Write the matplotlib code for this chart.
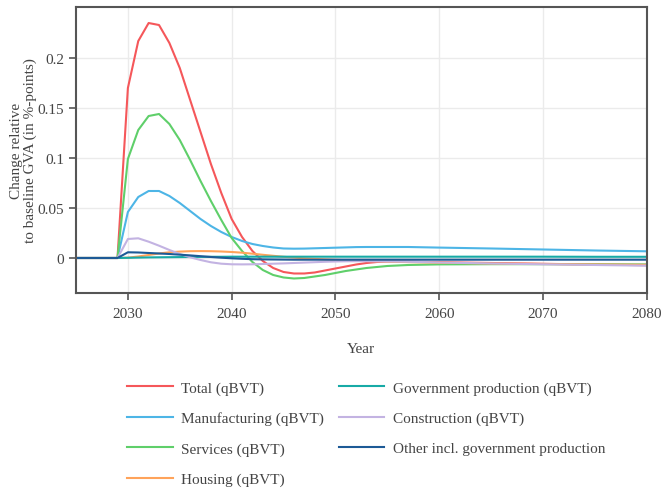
import matplotlib
matplotlib.use("Agg")
import matplotlib.pyplot as plt
from matplotlib.ticker import FuncFormatter

plt.rcParams['font.family'] = ['Liberation Serif', 'DejaVu Serif']

years = list(range(2025, 2061)) + [2065, 2070, 2075, 2080]

total = [0, 0, 0, 0, 0,
         0.170, 0.217, 0.235, 0.233, 0.215, 0.190, 0.158, 0.126, 0.094, 0.065,
         0.039, 0.021, 0.007, -0.003, -0.010, -0.014, -0.0155, -0.0155, -0.0145, -0.0125,
         -0.0105, -0.0085, -0.0065, -0.005, -0.004, -0.0035, -0.0035, -0.0036, -0.0038, -0.004,
         -0.0042, -0.005, -0.0058, -0.0066, -0.0072]
manufacturing = [0, 0, 0, 0, 0,
                 0.046, 0.061, 0.067, 0.067, 0.062, 0.055, 0.047, 0.039, 0.032, 0.026,
                 0.021, 0.017, 0.014, 0.012, 0.0105, 0.0095, 0.0093, 0.0094, 0.0097, 0.010,
                 0.0103, 0.0106, 0.0109, 0.011, 0.011, 0.011, 0.011, 0.011, 0.0108, 0.0106,
                 0.0104, 0.0095, 0.0085, 0.0075, 0.0067]
services = [0, 0, 0, 0, 0,
            0.099, 0.128, 0.142, 0.144, 0.134, 0.118, 0.098, 0.077, 0.057, 0.038,
            0.020, 0.007, -0.004, -0.012, -0.017, -0.0195, -0.0205, -0.020, -0.0185, -0.017,
            -0.015, -0.013, -0.0115, -0.010, -0.009, -0.008, -0.0075, -0.007, -0.0068, -0.0066,
            -0.0064, -0.0062, -0.0062, -0.0063, -0.0064]
housing = [0, 0, 0, 0, 0,
           0.0003, 0.0015, 0.003, 0.0045, 0.0057, 0.0064, 0.0068, 0.0069, 0.0068, 0.0065,
           0.006, 0.0053, 0.0043, 0.0032, 0.0022, 0.0012, 0.0004, -0.0003, -0.0009, -0.0014,
           -0.0018, -0.0022, -0.0026, -0.003, -0.0033, -0.0036, -0.0039, -0.0041, -0.0043, -0.0045,
           -0.0047, -0.0055, -0.006, -0.0065, -0.0068]
government = [0, 0, 0, 0, 0,
              0.0002, 0.0004, 0.0006, 0.0007, 0.0008, 0.0009, 0.001, 0.0011, 0.0012, 0.0012,
              0.0013, 0.0013, 0.0013, 0.0013, 0.0013, 0.0013, 0.0013, 0.0013, 0.0013, 0.0013,
              0.0013, 0.0013, 0.0013, 0.0013, 0.0013, 0.0013, 0.0013, 0.0013, 0.0013, 0.0013,
              0.0013, 0.0013, 0.0013, 0.0012, 0.0012]
construction = [0, 0, 0, 0, 0,
                0.019, 0.0197, 0.0163, 0.0123, 0.008, 0.004, 0.0007, -0.002, -0.0043, -0.0057,
                -0.0063, -0.0064, -0.0063, -0.006, -0.0057, -0.0054, -0.005, -0.0046, -0.0042, -0.0038,
                -0.0035, -0.0033, -0.0032, -0.0032, -0.0033, -0.0034, -0.0036, -0.0038, -0.004, -0.0042,
                -0.0045, -0.0055, -0.0063, -0.007, -0.0077]
other = [0, 0, 0, 0, 0,
         0.0057, 0.0055, 0.005, 0.0045, 0.004, 0.0033, 0.0026, 0.0018, 0.001, 0.0003,
         -0.0003, -0.0008, -0.0012, -0.0014, -0.0015, -0.0016, -0.0017, -0.0017, -0.0017, -0.0017,
         -0.0017, -0.0017, -0.0017, -0.0017, -0.0017, -0.0017, -0.0017, -0.0017, -0.0017, -0.0017,
         -0.0017, -0.0017, -0.0017, -0.0017, -0.0017]

series = [
    ("Total (qBVT)", total, "#f5575a"),
    ("Manufacturing (qBVT)", manufacturing, "#4db5e6"),
    ("Services (qBVT)", services, "#5fcf6a"),
    ("Housing (qBVT)", housing, "#ffa35a"),
    ("Government production (qBVT)", government, "#17aaa6"),
    ("Construction (qBVT)", construction, "#c3b3e2"),
    ("Other incl. government production", other, "#1d5a96"),
]

text_color = "#444444"
spine_color = "#555555"

fig = plt.figure(figsize=(6.62, 4.89), dpi=100)
ax = fig.add_axes([0.1148, 0.3988, 0.977 - 0.1148, 0.9836 - 0.3988])

for label, vals, color in series:
    ax.plot(years, vals, color=color, lw=1.5, label=label)

ax.set_xlim(2025, 2080)
ax.set_ylim(-0.035, 0.251)
ax.set_xticks([2030, 2040, 2050, 2060, 2070, 2080])
ax.set_yticks([0, 0.05, 0.1, 0.15, 0.2])
ax.yaxis.set_major_formatter(FuncFormatter(lambda v, p: "%g" % round(v, 4)))
ax.grid(True, color="#ebebeb", lw=1.0)
ax.set_axisbelow(True)

for s in ax.spines.values():
    s.set_color(spine_color)
    s.set_linewidth(1.5)
ax.tick_params(axis="both", direction="out", length=5, width=1.2,
               color=spine_color, labelcolor=text_color, labelsize=11)
ax.tick_params(axis="x", pad=5)

ax.set_xlabel("Year", fontsize=11, color=text_color, labelpad=16)
ax.set_ylabel("Change relative\nto baseline GVA (in %-points)", fontsize=11,
              color=text_color, linespacing=1.1)
ax.yaxis.set_label_coords(-0.068, 0.5)

handles, labels = ax.get_legend_handles_labels()
fig.legend(handles, labels, ncol=2, loc="upper left",
           bbox_to_anchor=(127 / 662, 1 - 382 / 489), frameon=False,
           fontsize=11, labelcolor=text_color, handlelength=3.0,
           handletextpad=0.55, columnspacing=0.95, labelspacing=1.08,
           borderpad=0, borderaxespad=0)

fig.savefig("out.png", dpi=100)
